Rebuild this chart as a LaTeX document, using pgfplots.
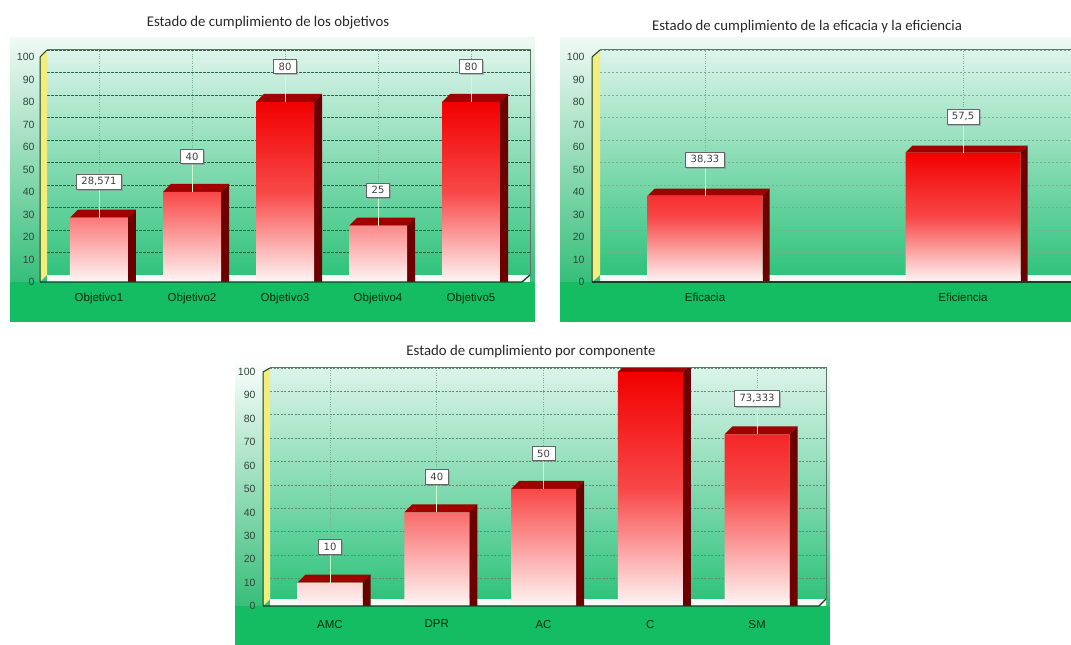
\documentclass[border=0pt]{standalone}
\usepackage{pgfplots}
\pgfplotsset{compat=1.18}
\usepackage{pgfplotstable}
\usepackage{fontspec}
\setmainfont{Liberation Sans}
\newfontfamily\titlefont{Carlito}
\newfontfamily\labelfont{DejaVu Sans}
\usetikzlibrary{shadows}

\definecolor{panelTop}{RGB}{240,249,245}
\definecolor{panelMid}{RGB}{55,190,122}
\definecolor{band}{RGB}{20,188,98}
\definecolor{wallTop}{RGB}{220,244,234}
\definecolor{wallBottom}{RGB}{42,193,120}
\definecolor{floorWhite}{RGB}{246,250,246}
\definecolor{floorEdge}{RGB}{25,60,40}
\definecolor{sideWall}{RGB}{242,238,125}
\definecolor{frameGray}{RGB}{95,115,105}
\definecolor{barRed}{RGB}{242,0,0}
\definecolor{barMid}{RGB}{248,72,72}
\definecolor{barWhite}{RGB}{255,246,246}
\definecolor{barTopFace}{RGB}{160,0,0}
\definecolor{barSideFace}{RGB}{108,0,0}
\definecolor{tickText}{RGB}{50,70,58}
\definecolor{titleText}{RGB}{40,40,40}
\definecolor{gridDark}{RGB}{35,105,65}
\definecolor{gridLight}{RGB}{120,175,145}

% Depth faces of a 3D bar: top parallelogram and right side.
% #1 mark name, #2 half of the bar width, #3 depth
\newcommand\declarebarfaces[3]{%
  \pgfdeclareplotmark{#1}{%
    \pgfsetfillcolor{barTopFace}%
    \pgfpathmoveto{\pgfpoint{-#2}{0pt}}%
    \pgfpathlineto{\pgfpoint{-#2+#3}{#3}}%
    \pgfpathlineto{\pgfpoint{#2+#3}{#3}}%
    \pgfpathlineto{\pgfpoint{#2}{0pt}}%
    \pgfpathclose
    \pgfusepath{fill}%
    \pgfsetfillcolor{barSideFace}%
    \pgfpathmoveto{\pgfpoint{#2}{0pt}}%
    \pgfpathlineto{\pgfpoint{#2+#3}{#3}}%
    \pgfpathlineto{\pgfpoint{#2+#3}{-700pt}}%
    \pgfpathlineto{\pgfpoint{#2}{-700pt}}%
    \pgfpathclose
    \pgfusepath{fill}%
  }%
}
\declarebarfaces{facesA}{29pt}{8pt}
\declarebarfaces{facesB}{57.5pt}{7pt}
\declarebarfaces{facesC}{32.5pt}{8pt}

\pgfplotstableread{
x y
0 28.571
1 40
2 80
3 25
4 80
}\objetivos

\pgfplotstableread{
x y
0 38.33
1 57.5
}\eficacia

\pgfplotstableread{
x y
0 10
1 40
2 50
3 100
4 73.333
}\componentes

\pgfplotsset{
  barpanel/.style={
    scale only axis,
    clip marker paths=true,
    axis background/.style={shade, top color=wallTop, bottom color=wallBottom},
    axis line style={draw=none},
    major tick length=0pt,
    ymin=0,
    ytick={0,10,...,100},
    ymajorgrids, xmajorgrids,
    tick label style={text=tickText},
    yticklabel style={font=\fontsize{10.5}{12}\selectfont},
    xticklabel style={font=\fontsize{11.5}{13}\selectfont, text=black!70!green!60!black},
    /pgf/number format/assume math mode=true,
  },
  frontbars/.style={ybar, bar width=#1, draw=none, top color=barRed, bottom color=barWhite, middle color=barMid},
  valuelabels/.style={
    draw=none, mark=none,
    nodes near coords={\pgfmathprintnumber[use comma,precision=3]{\pgfplotspointmeta}},
    every node near coord/.append style={
      font=\labelfont\fontsize{10}{11}\selectfont, text=black!75,
      fill=white, draw=black!60, line width=0.6pt,
      inner xsep=5pt, inner ysep=3.5pt,
      drop shadow={shadow xshift=1.5pt, shadow yshift=-1.5pt, opacity=0.45},
      anchor=south, yshift=28pt},
    error bars/.cd, y dir=plus, y fixed=#1, error mark=none,
    error bar style={draw=white!80!green, line width=0.8pt, solid},
  },
}

\begin{document}
\begin{tikzpicture}[x=1pt,y=1pt]
\clip (0,0) rectangle (1071,645);
\fill[white] (0,0) rectangle (1071,645);

% ---------- panel backgrounds ----------
\shade[top color=panelTop, bottom color=panelMid] (10,363) rectangle (535,607);
\fill[band] (10,323) rectangle (535,363);
\shade[top color=panelTop, bottom color=panelMid] (560,363) rectangle (1071,607);
\fill[band] (560,323) rectangle (1071,363);
\shade[top color=white, bottom color=panelMid] (235,39) rectangle (830,289);
\fill[band] (235,0) rectangle (830,39);

% ---------- titles ----------
\node[font=\titlefont\fontsize{14.8}{16}\selectfont, text=titleText] at (268,622) {Estado de cumplimiento de los objetivos};
\node[font=\titlefont\fontsize{14.8}{16}\selectfont, text=titleText] at (807,618) {Estado de cumplimiento de la eficacia y la eficiencia};
\node[font=\titlefont\fontsize{14.8}{16}\selectfont, text=titleText] at (531,293) {Estado de cumplimiento por componente};

% ---------- objetivos ----------
\begin{axis}[barpanel,
  at={(47pt,363pt)}, anchor=south west,
  width=483pt, height=232pt,
  xmin=-0.559, xmax=4.634, ymax=103.1,
  xtick={0,...,4},
  xticklabels={Objetivo1,Objetivo2,Objetivo3,Objetivo4,Objetivo5},
  yticklabel style={xshift=-9pt},
  xticklabel style={yshift=-7.5pt},
  y grid style={gridDark, dash pattern=on 2.5pt off 1.5pt, line width=0.7pt, yshift=7pt},
  x grid style={gridLight, dotted, line width=0.6pt},
]
\fill[floorWhite] (rel axis cs:0,0) -- ([yshift=7pt]rel axis cs:0,0) -- ([yshift=7pt]rel axis cs:1,0) -- (rel axis cs:1,0) -- cycle;
\addplot[only marks, mark=facesA] table[x=x,y=y]{\objetivos};
\addplot[frontbars=58pt] table[x=x,y=y]{\objetivos};
\addplot[valuelabels=12.4] table[x=x,y=y]{\objetivos};
\end{axis}
\fill[sideWall] (40,363) -- (40,588) -- (47,595) -- (47,370) -- cycle;
\draw[floorEdge, line width=1pt] (40,363) -- (40,588) -- (47,595);
\draw[frameGray, line width=1pt] (47,595) -- (530,595) -- (530,370);
\draw[floorEdge, line width=1.3pt] (40,363) -- (522,363) -- (530,370);

% ---------- eficacia y eficiencia ----------
\begin{axis}[barpanel,
  at={(600pt,363pt)}, anchor=south west,
  width=475pt, height=232pt,
  xmin=-0.407, xmax=1.434, ymax=103.1,
  xtick={0,1},
  xticklabels={Eficacia,Eficiencia},
  yticklabel style={xshift=-12pt},
  xticklabel style={yshift=-7.5pt},
  y grid style={gridLight, dash pattern=on 2pt off 2pt, line width=0.6pt, yshift=7pt},
  x grid style={gridLight, dotted, line width=0.6pt},
]
\fill[floorWhite] (rel axis cs:0,0) -- ([yshift=7pt]rel axis cs:0,0) -- ([yshift=7pt]rel axis cs:1,0) -- (rel axis cs:1,0) -- cycle;
\addplot[only marks, mark=facesB] table[x=x,y=y]{\eficacia};
\addplot[frontbars=115pt] table[x=x,y=y]{\eficacia};
\addplot[valuelabels=12.4] table[x=x,y=y]{\eficacia};
\end{axis}
\fill[sideWall] (592,363) -- (592,588) -- (600,595) -- (600,370) -- cycle;
\draw[floorEdge, line width=1pt] (592,363) -- (592,588) -- (600,595);
\draw[frameGray, line width=1pt] (600,595) -- (1071,595);
\draw[floorEdge, line width=1.3pt] (592,363) -- (1071,363);

% ---------- componentes ----------
\begin{axis}[barpanel,
  at={(270pt,39pt)}, anchor=south west,
  width=556pt, height=238pt,
  xmin=-0.562, xmax=4.646, ymax=101.7,
  xtick={0,...,4},
  xticklabels={AMC,DPR,AC,C,SM},
  yticklabel style={xshift=-11pt},
  xticklabel style={yshift=-10.5pt},
  y grid style={gridLight!80!black, dash pattern=on 2pt off 1.5pt, line width=0.6pt, yshift=4pt},
  x grid style={gridLight, dotted, line width=0.6pt},
]
\fill[floorWhite] (rel axis cs:0,0) -- ([yshift=7pt]rel axis cs:0,0) -- ([yshift=7pt]rel axis cs:1,0) -- (rel axis cs:1,0) -- cycle;
\addplot[only marks, mark=facesC] table[x=x,y=y]{\componentes};
\addplot[frontbars=65pt] table[x=x,y=y]{\componentes};
\addplot[y filter/.expression={y>99 ? nan : y}, valuelabels=12.0] table[x=x,y=y]{\componentes};
\end{axis}
\fill[sideWall] (263,39) -- (263,273) -- (270,277) -- (270,46) -- cycle;
\draw[floorEdge, line width=1pt] (263,39) -- (263,273) -- (270,277);
\draw[frameGray, line width=1pt] (270,277) -- (826,277) -- (826,46);
\draw[floorEdge, line width=1.3pt] (263,39) -- (819,39) -- (826,46);
\end{tikzpicture}
\end{document}
